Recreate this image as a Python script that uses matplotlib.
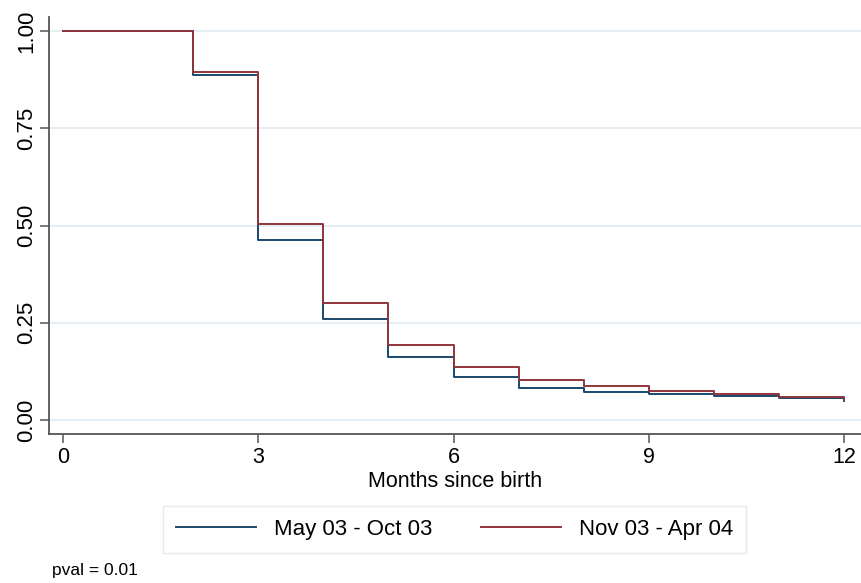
import matplotlib
matplotlib.use("Agg")
import matplotlib.pyplot as plt

plt.rcParams['font.family'] = ['Liberation Sans', 'DejaVu Sans']

# survival estimates (step function, post)
months = [0, 2, 3, 4, 5, 6, 7, 8, 9, 10, 11, 12]
surv_may_oct = [1.0, 0.887, 0.464, 0.259, 0.162, 0.110, 0.083, 0.073, 0.066, 0.061, 0.056, 0.050]
surv_nov_apr = [1.0, 0.895, 0.504, 0.302, 0.193, 0.136, 0.104, 0.087, 0.075, 0.067, 0.059, 0.052]
labels = ["May 03 - Oct 03", "Nov 03 - Apr 04"]
xticks = [0, 3, 6, 9, 12]
yticks = [0.0, 0.25, 0.5, 0.75, 1.0]

blue = "#1a476f"
red = "#90353b"
grid = "#e4eef4"

fig = plt.figure(figsize=(8.61, 5.83), dpi=100)
ax = fig.add_axes([49/861, 1-434/583, 1-49/861, (434-17)/583])

ax.step(months, surv_may_oct, where="post", color=blue, lw=1.4, label=labels[0])
ax.step(months, surv_nov_apr, where="post", color=red, lw=1.4, label=labels[1])

ax.set_xlim(-0.215, 12.26)
ax.set_ylim(-0.036, 1.036)
ax.set_xticks(xticks)
ax.set_yticks(yticks)
ax.set_yticklabels(["%.2f" % v for v in yticks], rotation=90, va="center")
ax.grid(axis="y", color=grid, lw=1.4)
ax.set_axisbelow(True)
for s in ["top", "right"]:
    ax.spines[s].set_visible(False)
for s in ["left", "bottom"]:
    ax.spines[s].set_color("#555555")
    ax.spines[s].set_linewidth(1.3)
ax.tick_params(axis="both", color="#555555", width=1.1, length=6.5)
ax.tick_params(axis="x", labelsize=15.5, pad=3)
ax.tick_params(axis="y", labelsize=16, pad=2)
ax.set_xlabel("Months since birth", fontsize=15.5, labelpad=2)

fig.legend(loc="center", bbox_to_anchor=(454.5/861, 1-529.5/583), ncol=2,
           fontsize=16, frameon=True, fancybox=False, edgecolor="#dde6ea",
           handlelength=3.6, columnspacing=2.2, handletextpad=0.8,
           borderpad=0.6)

fig.text(52/861, 1-570/583, "pval = 0.01", fontsize=12.5, va="center")

fig.savefig("out.png", dpi=100)
